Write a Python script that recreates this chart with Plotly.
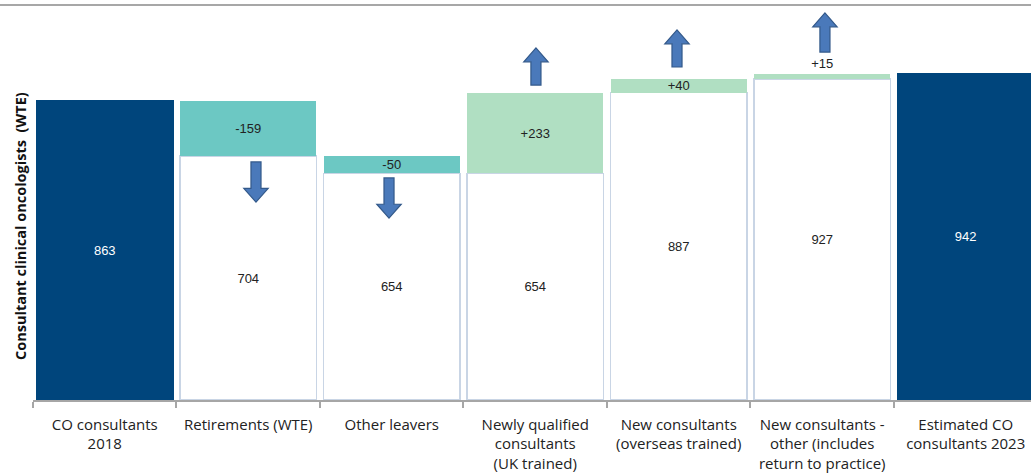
import plotly.graph_objects as go

# ---- data ----
categories = [
    "CO consultants<br>2018",
    "Retirements (WTE)",
    "Other leavers",
    "Newly qualified<br>consultants<br>(UK trained)",
    "New consultants<br>(overseas trained)",
    "New consultants -<br>other (includes<br>return to practice)",
    "Estimated CO<br>consultants 2023",
]
base_values = [863, 704, 654, 654, 887, 927, 942]
change_values = [0, 159, 50, 233, 40, 15, 0]
change_labels = ["", "-159", "-50", "+233", "+40", "+15", ""]
is_total = [True, False, False, False, False, False, True]
is_negative = [False, True, True, False, False, False, False]

NAVY = "#00457c"
TEAL = "#6cc8c3"
GREEN = "#b0dfc2"
OUTLINE = "#c9d5e5"

x = list(range(len(categories)))

base_colors = [NAVY if t else "white" for t in is_total]
base_line = [NAVY if t else OUTLINE for t in is_total]
base_text_colors = ["white" if t else "#222222" for t in is_total]
change_colors = [TEAL if n else GREEN for n in is_negative]

fig = go.Figure()
fig.add_trace(go.Bar(
    x=x, y=base_values, width=0.95,
    marker=dict(color=base_colors, line=dict(color=base_line, width=1.5)),
    text=[str(v) for v in base_values],
    textposition="inside", insidetextanchor="middle",
    textfont=dict(family="Liberation Sans, Arial", size=13, color=base_text_colors),
    showlegend=False, hoverinfo="skip",
))
fig.add_trace(go.Bar(
    x=x, y=change_values, width=0.95,
    marker=dict(color=change_colors, line=dict(width=0)),
    text=change_labels,
    textposition=["inside" if v >= 30 else "outside" for v in change_values],
    insidetextanchor="middle",
    textfont=dict(family="Liberation Sans, Arial", size=13, color="#222222"),
    cliponaxis=False,
    showlegend=False, hoverinfo="skip",
))

# ---- decorative block arrows (x index, y start, y tip) ----
arrows = [
    (1.054, 687, 571),
    (1.981, 641, 525),
    (3.005, 909, 1016),
    (3.988, 961, 1068),
    (5.019, 1004, 1117),
]
HEAD_LEN = 40
HEAD_HW = 0.085
SHAFT_HW = 0.035
for cx, y0, y1 in arrows:
    d = 1 if y1 > y0 else -1
    yh = y1 - d * HEAD_LEN
    path = (f"M {cx-SHAFT_HW},{y0} L {cx-SHAFT_HW},{yh} L {cx-HEAD_HW},{yh} "
            f"L {cx},{y1} L {cx+HEAD_HW},{yh} L {cx+SHAFT_HW},{yh} L {cx+SHAFT_HW},{y0} Z")
    fig.add_shape(type="path", path=path, xref="x", yref="y",
                  fillcolor="#4a79ba", line=dict(color="#33598a", width=1.2), layer="above")

# top grey rule
fig.add_shape(type="line", xref="paper", yref="paper", x0=-33/998, x1=1, y0=1, y1=1,
              line=dict(color="#8a8a8a", width=1.5))

fig.add_annotation(
    text="Consultant clinical oncologists  (WTE)", textangle=-90,
    xref="paper", yref="paper", x=(20 - 33) / 998, y=(400 - 226) / 395,
    showarrow=False, xanchor="center", yanchor="middle",
    font=dict(family="Open Sans", size=14.5, color="#111111", weight="bold"),
)

fig.update_layout(
    width=1031, height=474,
    margin=dict(l=33, r=0, t=5, b=74, autoexpand=False),
    barmode="stack",
    uniformtext=dict(minsize=13, mode="show"),
    plot_bgcolor="white", paper_bgcolor="white",
    xaxis=dict(
        range=[-0.5, 6.455], tickmode="array", tickvals=x, ticktext=categories,
        ticks="", showgrid=False, zeroline=False, automargin=False,
        showline=True, linecolor="#a6a6a6", linewidth=1.5,
        tickfont=dict(family="Open Sans", size=15, color="#222222"),
        ticklabelstandoff=10,
        minor=dict(tickmode="array", tickvals=[i - 0.5 for i in range(8)],
                   ticks="outside", ticklen=6, tickcolor="#a6a6a6", tickwidth=1.5, showgrid=False),
    ),
    yaxis=dict(range=[0, 1140], showticklabels=False, showgrid=False, automargin=False,
               zeroline=False, showline=False, ticks=""),
)

fig.write_html("out.html", config={"displayModeBar": False},
               post_script="document.body.style.margin='0';")
